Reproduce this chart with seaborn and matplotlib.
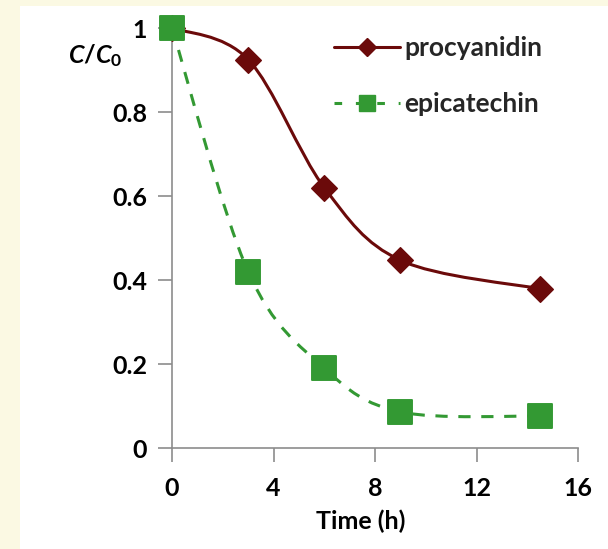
import numpy as np
import pandas as pd
import seaborn as sns
import matplotlib.pyplot as plt
from matplotlib.path import Path
from matplotlib.patches import PathPatch, Rectangle
from matplotlib.lines import Line2D

# data
time_h = [0, 3, 6, 9, 14.5]
procyanidin = [1.0, 0.925, 0.62, 0.447, 0.379]
epicatechin = [1.0, 0.42, 0.19, 0.086, 0.076]
x_ticks = [0, 4, 8, 12, 16]
y_ticks = [0, 0.2, 0.4, 0.6, 0.8, 1]
y_tick_labels = ["0", "0.2", "0.4", "0.6", "0.8", "1"]

RED = "#6b0a0a"
GREEN = "#339933"
GRAY = "#8c8c8c"


def smooth_path(xs, ys):
    # Excel-like smoothed line: cubic Bezier through the points
    pts = np.column_stack([xs, ys]).astype(float)
    n = len(pts)
    verts = [pts[0]]
    codes = [Path.MOVETO]
    for i in range(n - 1):
        p_prev = pts[max(i - 1, 0)]
        p0 = pts[i]
        p1 = pts[i + 1]
        p_next = pts[min(i + 2, n - 1)]
        c1 = p0 + (p1 - p_prev) / 6.0
        c2 = p1 - (p_next - p0) / 6.0
        verts += [c1, c2, p1]
        codes += [Path.CURVE4] * 3
    return Path(verts, codes)


def main():
    sns.set_style("white")
    plt.rcParams["font.family"] = ["Lato", "DejaVu Sans"]
    plt.rcParams["font.weight"] = "bold"
    plt.rcParams["mathtext.fontset"] = "custom"
    plt.rcParams["mathtext.it"] = "Lato:italic:bold"
    plt.rcParams["mathtext.rm"] = "Lato:bold"

    fig = plt.figure(figsize=(6.08, 5.49), dpi=100, facecolor="#fbf9e3")
    fig.add_artist(Rectangle((20 / 608, 0), 1, 1 - 6 / 549, transform=fig.transFigure,
                             facecolor="white", edgecolor="none", zorder=-10))
    ax = fig.add_axes([172 / 608, 1 - 448 / 549, 406 / 608, 420 / 549])
    ax.set_facecolor("none")
    ax.set_zorder(1)

    df = pd.DataFrame({"time": time_h * 2,
                       "value": procyanidin + epicatechin,
                       "series": ["procyanidin"] * len(time_h) + ["epicatechin"] * len(time_h)})

    ax.add_patch(PathPatch(smooth_path(time_h, procyanidin), facecolor="none",
                           edgecolor=RED, lw=2.2, clip_on=False))
    ax.add_patch(PathPatch(smooth_path(time_h, epicatechin), facecolor="none",
                           edgecolor=GREEN, lw=2.2, ls=(0, (4, 3.5)), clip_on=False))

    sns.scatterplot(data=df[df.series == "procyanidin"], x="time", y="value", ax=ax,
                    marker="D", s=170, color=RED, edgecolor=RED, legend=False, clip_on=False, zorder=5)
    sns.scatterplot(data=df[df.series == "epicatechin"], x="time", y="value", ax=ax,
                    marker="s", s=300, color=GREEN, edgecolor=GREEN, legend=False, clip_on=False, zorder=5)

    ax.set_xlim(0, 16)
    ax.set_ylim(0, 1)
    ax.set_xticks(x_ticks)
    ax.set_yticks(y_ticks)
    ax.set_yticklabels(y_tick_labels)
    ax.set_xlabel("")
    ax.set_ylabel("")
    for side in ["top", "right"]:
        ax.spines[side].set_visible(False)
    for side in ["left", "bottom"]:
        ax.spines[side].set_color(GRAY)
        ax.spines[side].set_linewidth(1.2)
    ax.tick_params(axis="both", direction="out", length=10, width=1.2, color=GRAY,
                   labelsize=18, labelcolor="black", left=True, bottom=True)
    ax.tick_params(axis="x", pad=11)
    ax.tick_params(axis="y", pad=8)

    ax.text(-0.255, 0.935, r"$C/C_0$", transform=ax.transAxes, fontsize=18,
            ha="left", va="center", color="black")
    ax.text(0.465, -0.175, "Time (h)", transform=ax.transAxes, fontsize=18,
            ha="center", va="center", color="black")

    handles = [Line2D([], [], color=RED, lw=2.2, marker="D", markersize=9),
               Line2D([], [], color=GREEN, lw=2.2, ls=(0, (2.5, 4.5)), marker="s", markersize=12)]
    ax.legend(handles, ["procyanidin", "epicatechin"], loc="upper left",
              bbox_to_anchor=(0.40, 0.98), frameon=False, fontsize=19,
              borderpad=0, borderaxespad=0,
              handlelength=2.5, handletextpad=0.15, labelspacing=1.2)

    fig.savefig("out.png", dpi=100, facecolor=fig.get_facecolor())


if __name__ == "__main__":
    main()
